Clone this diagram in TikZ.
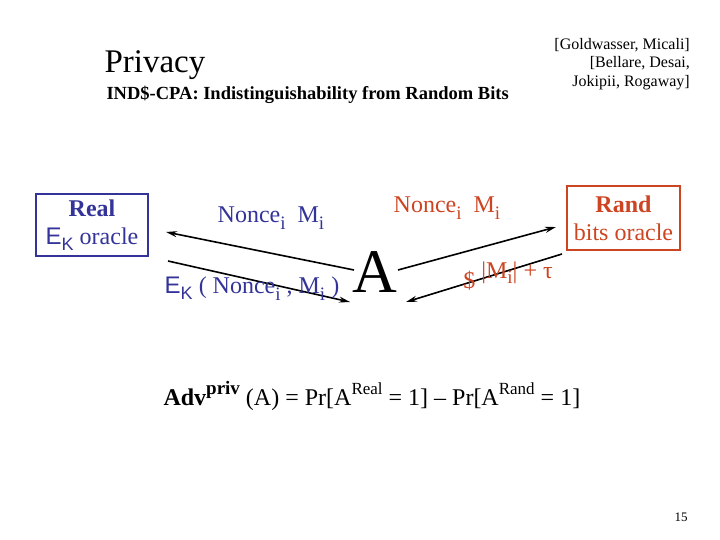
\documentclass[tikz,border=0pt]{standalone}
\usepackage{fontspec}
\setmainfont{Liberation Serif}
\setsansfont{Liberation Sans}
\usetikzlibrary{arrows.meta}
\definecolor{rblue}{RGB}{51,51,153}
\definecolor{rred}{RGB}{204,68,34}
\newcommand{\fs}[1]{\fontsize{#1}{1.15\dimexpr#1pt\relax}\selectfont}
\newcommand{\EK}{\textsf{E}\raisebox{-0.25em}{\textsf{\fs{18}K}}}
\begin{document}
\begin{tikzpicture}[x=1pt,y=-1pt,
  arr/.style={-{Stealth[length=11pt,width=6pt]},line width=1.6pt},
  box/.style={draw,line width=1.5pt,align=center,inner sep=0pt}]
\useasboundingbox (0,0) rectangle (720,540);
\node[anchor=base west,font=\fs{33}] (title) at (101,73) {Privacy};
\node[anchor=base west,font=\fs{18.5}\bfseries] (sub) at (103,100) {IND\$-CPA: Indistinguishability from Random Bits};
\node[anchor=north east,align=right,font=\fs{16},inner sep=0pt] (cite) at (690,38) {{[}Goldwasser, Micali{]}\\{[}Bellare, Desai,\\Jokipii, Rogaway{]}};
\node[box,draw=rblue,text=rblue,minimum width=112pt,minimum height=62pt,font=\fs{24}] (real) at (92,225) {\textbf{Real}\\\EK\ oracle};
\node[box,draw=rred,text=rred,minimum width=113pt,minimum height=64pt,font=\fs{24}] (rand) at (623.5,218) {\textbf{Rand}\\bits oracle};
\node[font=\fs{62}] (A) at (375,272) {A};
\coordinate (a1s) at (354,270); \coordinate (a1e) at (166,232);
\coordinate (a2s) at (168,261); \coordinate (a2e) at (350,302);
\coordinate (a3s) at (398,270); \coordinate (a3e) at (556,227);
\coordinate (a4s) at (562,254); \coordinate (a4e) at (406,302);
\draw[arr] (a1s) -- (a1e);
\draw[arr] (a2s) -- (a2e);
\draw[arr] (a3s) -- (a3e);
\draw[arr] (a4s) -- (a4e);
\node[text=rblue,font=\fs{24}] (l1) at (271,218) {Nonce\raisebox{-0.3em}{\fs{19}i}\ \ M\raisebox{-0.3em}{\fs{19}i}};
\node[text=rblue,font=\fs{24}] (l2) at (252,289) {\EK\ ( Nonce\raisebox{-0.3em}{\fs{19}i} , M\raisebox{-0.3em}{\fs{19}i} )};
\node[text=rred,font=\fs{24}] (l3) at (447,208) {Nonce\raisebox{-0.3em}{\fs{19}i}\ \ M\raisebox{-0.3em}{\fs{19}i}};
\node[text=rred,font=\fs{24}] (l4) at (508,276) {\$ \raisebox{0.4em}{|M\raisebox{-0.2em}{\fs{19}i}| + τ}};
\node[anchor=base west,font=\fs{24}] (adv) at (160,405) {\textbf{Adv}\raisebox{0.45em}{\fs{19}\textbf{priv}} (A) = Pr{[}A\raisebox{0.45em}{\fs{17}Real} = 1{]} -- Pr{[}A\raisebox{0.45em}{\fs{17}Rand} = 1{]}};
\node[font=\fs{13}] (pg) at (681,517) {15};
\end{tikzpicture}
\end{document}
